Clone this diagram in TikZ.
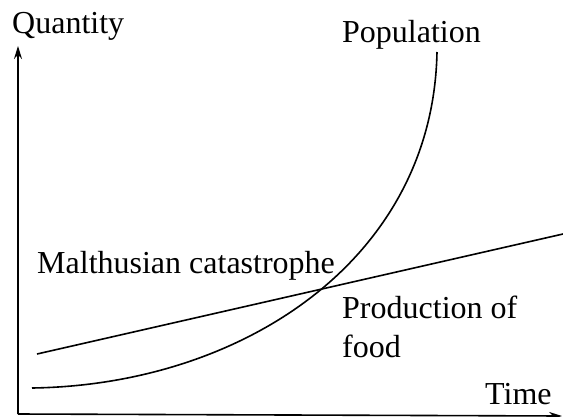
\documentclass[tikz,border=0pt]{standalone}
\usepackage{fontspec}
\setmainfont{Liberation Serif}
\usetikzlibrary{arrows.meta}
\tikzset{
  lbl/.style={anchor=base west, inner sep=0pt, font=\fontsize{32}{34}\selectfont},
  axis/.style={line width=1.6pt, -{Stealth[length=13pt,width=8pt]}},
  curve/.style={line width=1.6pt}
}
\begin{document}
\begin{tikzpicture}[x=1pt,y=-1pt]
\useasboundingbox (0,0) rectangle (563,416);
% axes
\coordinate (o) at (18,414);
\coordinate (ytop) at (18,46);
\coordinate (xend) at (562,416);
\draw[axis] (o) -- (ytop);
\draw[axis] (o) -- (xend);
% curves
\coordinate (f0) at (37,354);
\coordinate (f1) at (563,234);
\draw[curve] (f0) -- (f1);
\coordinate (p0) at (32,388);
\coordinate (p1) at (437,52);
\draw[curve] (p0) .. controls (242,385) and (433,260) .. (p1);
% labels
\node[lbl] (q) at (12,33) {Quantity};
\node[lbl] (pop) at (342,42) {Population};
\node[lbl] (mal) at (37,273) {Malthusian catastrophe};
\node[lbl] (prod) at (342,318) {Production of};
\node[lbl] (food) at (342,357) {food};
\node[lbl] (time) at (485,404) {Time};
\end{tikzpicture}
\end{document}
